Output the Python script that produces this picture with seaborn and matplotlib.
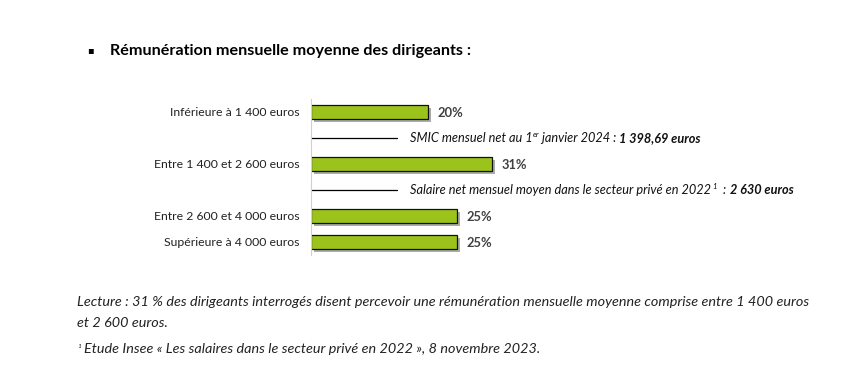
import matplotlib
matplotlib.use("Agg")
import matplotlib.pyplot as plt
import matplotlib.patheffects as pe
import seaborn as sns
import pandas as pd

categories = ["Inférieure à 1 400 euros", "Entre 1 400 et 2 600 euros",
              "Entre 2 600 et 4 000 euros", "Supérieure à 4 000 euros"]
values = [20, 31, 25, 25]
value_labels = ["20%", "31%", "25%", "25%"]
row_order = ["Inférieure à 1 400 euros", "_smic", "Entre 1 400 et 2 600 euros", "_sal",
             "Entre 2 600 et 4 000 euros", "Supérieure à 4 000 euros"]
title = "Rémunération mensuelle moyenne des dirigeants :"
lecture1 = "Lecture : 31 % des dirigeants interrogés disent percevoir une rémunération mensuelle moyenne comprise entre 1 400 euros"
lecture2 = "et 2 600 euros."
source = "Etude Insee « Les salaires dans le secteur privé en 2022 », 8 novembre 2023."

sns.set_theme(style="white")
plt.rcParams['font.family'] = ['Lato', 'DejaVu Sans']

DPI = 100
fig = plt.figure(figsize=(8.48, 3.77), dpi=DPI)
ax = fig.add_axes([311/848, 1-255/377, 0.552, 156/377])

df = pd.DataFrame({"cat": categories, "val": values})
sns.barplot(data=df, x="val", y="cat", order=row_order, color="#9bc31c",
            width=0.54, edgecolor="#111111", linewidth=0.9, ax=ax, saturation=1)
for p in ax.patches:
    p.set_path_effects([pe.SimplePatchShadow(offset=(2, -2), shadow_rgbFace="#666666", alpha=0.55),
                        pe.Normal()])

ax.set_xlim(0, 80)
ax.set_ylim(5.5, -0.5)
ax.set_xlabel("")
ax.set_ylabel("")
ax.set_xticks([])
ax.set_yticks(range(len(row_order)))
ax.set_yticklabels([c if not c.startswith("_") else "" for c in row_order],
                   fontsize=8.8, color="#222222")
ax.tick_params(axis="y", length=0, pad=8.5)
for s in ["top", "right", "bottom"]:
    ax.spines[s].set_visible(False)
ax.spines["left"].set_color("#d0d0d0")
ax.spines["left"].set_linewidth(0.8)

for cat, v, lab in zip(categories, values, value_labels):
    yi = row_order.index(cat)
    ax.annotate(lab, (v, yi), xytext=(6.5, -1), textcoords="offset points",
                va="center", ha="left", fontsize=9.3, fontweight="bold", color="#404040",
                annotation_clip=False)

renderer = fig.canvas.get_renderer()

def rich(x, y, pieces):
    off = 0.0
    for txt, kw in pieces:
        kw = dict(kw)
        dy = kw.pop("dy", 0)
        t = ax.annotate(txt, (x, y), xytext=(off, -3 + dy), textcoords="offset points",
                        va="baseline", ha="left", annotation_clip=False,
                        color="#111111", **kw)
        bb = t.get_window_extent(renderer)
        off += bb.width * 72 / DPI

# reference lines
line_end = 14.7
text_x = 16.9
for row in [1, 3]:
    ax.plot([0, line_end], [row, row], color="black", lw=0.9, clip_on=False)

it = dict(fontsize=9.15, style="italic")
itb = dict(fontsize=9.15, style="italic", fontweight="bold")
sup = dict(fontsize=5.8, style="italic", dy=4)
rich(text_x, 1, [("SMIC mensuel net au 1", it), ("er", sup), (" janvier 2024 : ", it),
                 ("1 398,69 euros", itb)])
rich(text_x, 3, [("Salaire net mensuel moyen dans le secteur privé en 2022", it), (" 1", sup),
                 ("  : ", it), ("2 630 euros", itb)])

# title
fig.text(87/848, 1-50/377, "▪", fontsize=7, fontweight="bold", va="center", ha="left",
         color="black", family=["DejaVu Sans"])
fig.text(110/848, 1-51/377, title, fontsize=11.6, fontweight="bold", va="center", ha="left",
         color="black")

# footer
fig.text(77/848, 1-302/377, lecture1, fontsize=10.4, style="italic", va="center", ha="left",
         color="#222222")
fig.text(77/848, 1-323/377, lecture2, fontsize=10.4, style="italic", va="center", ha="left",
         color="#222222")
fig.text(77/848, 1-349/377, "¹", fontsize=7, style="italic", va="center", ha="left",
         color="#222222")
fig.text(84/848, 1-349/377, source, fontsize=10.4, style="italic", va="center", ha="left",
         color="#222222")

fig.savefig("out.png", dpi=DPI)
